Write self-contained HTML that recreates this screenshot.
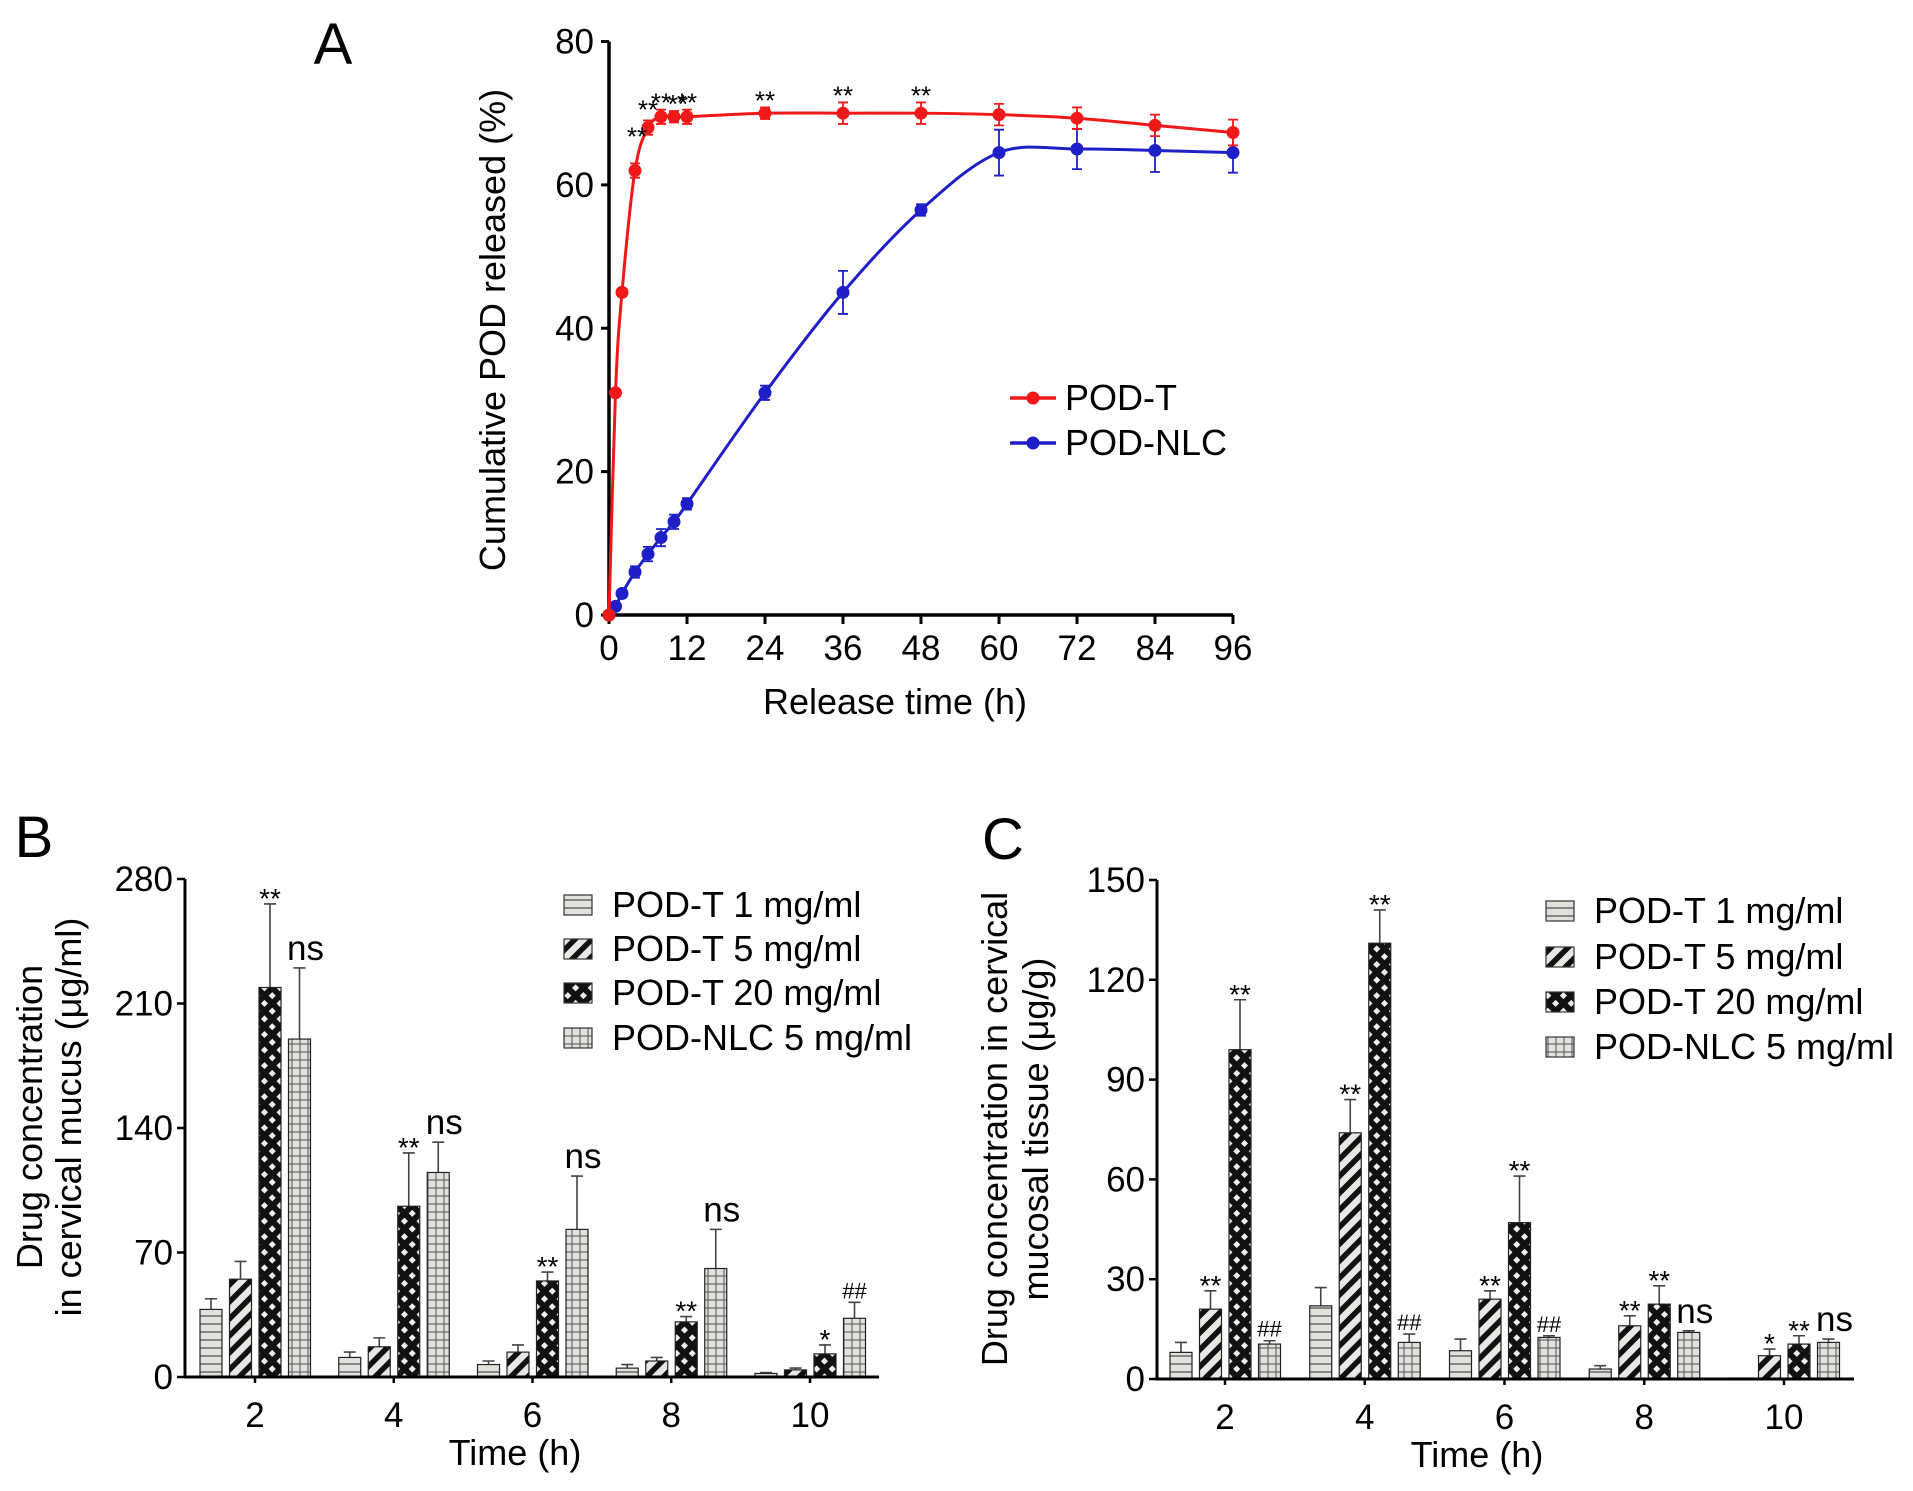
<!DOCTYPE html>
<html><head><meta charset="utf-8">
<style>
html,body{margin:0;padding:0;background:#fff;}
svg{display:block;font-family:"Liberation Sans",Arial,sans-serif;}
</style></head>
<body>
<svg id="fig" width="1913" height="1491" viewBox="0 0 1913 1491" xmlns="http://www.w3.org/2000/svg">
<defs>
 <pattern id="pH" width="8" height="8" patternUnits="userSpaceOnUse"><rect width="8" height="8" fill="#e2e2dc"/><line x1="0" y1="4" x2="8" y2="4" stroke="#555" stroke-width="1.3"/></pattern>
 <pattern id="pD" width="12" height="12" patternUnits="userSpaceOnUse" patternTransform="rotate(-45)"><rect width="12" height="12" fill="#e8e8e2"/><rect x="0" y="0" width="12" height="5.5" fill="#111"/></pattern>
 <pattern id="pX" width="11" height="11" patternUnits="userSpaceOnUse" patternTransform="rotate(45)"><rect width="11" height="11" fill="#111"/><rect x="3" y="3" width="5" height="5" fill="#eee"/></pattern>
 <pattern id="pG" width="8" height="8" patternUnits="userSpaceOnUse"><rect width="8" height="8" fill="#e2e2dc"/><line x1="0" y1="4" x2="8" y2="4" stroke="#666" stroke-width="1.2"/><line x1="4" y1="0" x2="4" y2="8" stroke="#666" stroke-width="1.2"/></pattern>
</defs>
<g id="A"></g>
<g id="B"></g>
<g id="C"></g>
</svg>
<script>
// Panel A data
const aTimes=[0,1,2,4,6,8,10,12,24,36,48,60,72,84,96];
const aRed=[0,31,45,62,68,69.5,69.5,69.5,70,70,70,69.8,69.3,68.3,67.3];
const aRedErr=[0,0.5,0.5,1,1,1,0.8,1,0.8,1.5,1.5,1.5,1.5,1.5,1.8];
const aBlue=[0,1.2,3,6,8.5,10.8,13,15.5,31,45,56.5,64.5,65,64.8,64.5];
const aBlueErr=[0,0.5,0.5,0.8,1,1.2,1,0.8,1,3,0.8,3.2,2.8,3,2.8];
const aStarIdx=[3,4,5,6,7,8,9,10];
const aYTicks=[0,20,40,60,80];
const aXTicks=[0,12,24,36,48,60,72,84,96];
// Panel B data
const groupLabels=['2','4','6','8','10'];
const seriesNames=['POD-T 1 mg/ml','POD-T 5 mg/ml','POD-T 20 mg/ml','POD-NLC 5 mg/ml'];
const bVals=[[38,11,7,5,2],[55,17,14,9,4],[219,96,54,31,13],[190,115,83,61,33]];
const bErr=[[6,3,2,2,0.5],[10,5,4,2,1],[47,30,5,3,5],[40,17,30,22,9]];
const bAnn=[[null,null,null,null,null],[null,null,null,null,null],['**','**','**','**','*'],['ns','ns','ns','ns','##']];
const bYTicks=[0,70,140,210,280];
// Panel C data
const cVals=[[8,22,8.5,3,0.3],[21,74,24,16,7],[99,131,47,22.5,10.5],[10.5,11,12.5,14,11]];
const cErr=[[3,5.5,3.5,1,0],[5.5,10,2.5,3,2],[15,10,14,5.5,2.5],[1,2.5,0.5,0.5,1]];
const cAnn=[[null,null,null,null,null],['**','**','**','**','*'],['**','**','**','**','**'],['##','##','##','ns','ns']];
const cYTicks=[0,30,60,90,120,150];

const TICK=35, TITLE=36, LEG=36;
const NS='http://www.w3.org/2000/svg';
function mk(parent,tag,attrs,text){const e=document.createElementNS(NS,tag);for(const k in attrs)e.setAttribute(k,attrs[k]);if(text!==undefined)e.textContent=text;parent.appendChild(e);return e;}

// ---------- Panel A ----------
(function(){
 const g=document.getElementById('A');
 const X=t=>609+t*6.5, Y=v=>615-v*(615-41.5)/80;
 const L=mk(g,'text',{x:333,y:64,'font-size':58,'text-anchor':'middle'},'A');
 
 aYTicks.forEach(v=>{const t=mk(g,'line',{x1:601,x2:609,y1:Y(v),y2:Y(v),stroke:'#000','stroke-width':3});
   
   const l=mk(g,'text',{x:594,y:Y(v)+12,'font-size':TICK,'text-anchor':'end'},v);
   });
 aXTicks.forEach(v=>{const t=mk(g,'line',{x1:X(v),x2:X(v),y1:615,y2:624,stroke:'#000','stroke-width':3});
   
   const l=mk(g,'text',{x:X(v),y:660,'font-size':TICK,'text-anchor':'middle'},v);
   });
 const ax=mk(g,'path',{d:`M609,${Y(80)} V615 H${X(96)}`,fill:'none',stroke:'#000','stroke-width':3.5});
 
 const yt=mk(g,'text',{x:0,y:0,'font-size':TITLE,'text-anchor':'middle',transform:`translate(505,330) rotate(-90)`},'Cumulative POD released (%)');
 
 const xt=mk(g,'text',{x:895,y:714,'font-size':TITLE,'text-anchor':'middle'},'Release time (h)');
 
 function series(vals,errs,color,name){
   const sg=mk(g,'g',{});
   const pts=aTimes.map((t,i)=>[X(t),Y(vals[i])]);
   let d='M'+pts[0][0]+','+pts[0][1];
   for(let i=0;i<pts.length-1;i++){const p0=pts[Math.max(0,i-1)],p1=pts[i],p2=pts[i+1],p3=pts[Math.min(pts.length-1,i+2)];
     const c1=[p1[0]+(p2[0]-p0[0])/6,p1[1]+(p2[1]-p0[1])/6],c2=[p2[0]-(p3[0]-p1[0])/6,p2[1]-(p3[1]-p1[1])/6];
     d+=` C${c1[0]},${c1[1]} ${c2[0]},${c2[1]} ${p2[0]},${p2[1]}`;}
   const ln=mk(sg,'path',{d:d,fill:'none',stroke:color,'stroke-width':3});
   
   aTimes.forEach((t,i)=>{
     if(errs[i]>0){const e=mk(sg,'path',{d:`M${X(t)},${Y(vals[i]-errs[i])}V${Y(vals[i]+errs[i])}M${X(t)-5},${Y(vals[i]+errs[i])}h10M${X(t)-5},${Y(vals[i]-errs[i])}h10`,stroke:color,'stroke-width':1.8,fill:'none'});
       }
     const c=mk(sg,'circle',{cx:X(t),cy:Y(vals[i]),r:6.5,fill:color});
     });
 }
 series(aBlue,aBlueErr,'#1f1fc8','pod-nlc-series');
 series(aRed,aRedErr,'#f01818','pod-t-series');
 aStarIdx.forEach(i=>{const s=mk(g,'text',{x:X(aTimes[i])+(i===3?2:i===6?4:0),y:Y(aRed[i]+aRedErr[i])+(i===3?-18:i===4?-2:2),'font-size':26,'text-anchor':'middle'},'**');
   });
 [['POD-T','#f01818',398],['POD-NLC','#1f1fc8',443]].forEach(([n,c,y])=>{
   const lg=mk(g,'g',{});
   mk(lg,'line',{x1:1010,x2:1056,y1:y,y2:y,stroke:c,'stroke-width':3.5});
   mk(lg,'circle',{cx:1033,cy:y,r:6.5,fill:c});
   mk(lg,'text',{x:1065,y:y+12,'font-size':LEG},n);});
})();

// ---------- Bar panels ----------
const fills=['url(#pH)','url(#pD)','url(#pX)','url(#pG)'];
function barPanel(id,cfg){
 const g=document.getElementById(id);
 const Y=v=>cfg.y0-v*(cfg.y0-cfg.yTop)/cfg.yMax;
 const L=mk(g,'text',{x:cfg.lx,y:cfg.ly,'font-size':58,'text-anchor':'middle'},cfg.label);
 
 cfg.yTicks.forEach(v=>{const t=mk(g,'line',{x1:cfg.ax-8,x2:cfg.ax,y1:Y(v),y2:Y(v),stroke:'#000','stroke-width':2.5});
   
   const l=mk(g,'text',{x:cfg.ax-12,y:Y(v)+12,'font-size':TICK,'text-anchor':'end'},v);
   });
 for(let s=0;s<4;s++)for(let k=0;k<5;k++){
   const x=cfg.bx0+k*cfg.gstep+s*29.5, v=cfg.vals[s][k], e=cfg.errs[s][k];
   if(e>0){const eb=mk(g,'path',{d:`M${x+11},${Y(v)}V${Y(v+e)}M${x+5},${Y(v+e)}h12`,stroke:'#444','stroke-width':1.6,fill:'none'});
     }
   const r=mk(g,'rect',{x:x,y:Y(v),width:22,height:cfg.y0-Y(v),fill:fills[s],stroke:'#222','stroke-width':1.2});
   
   const a=cfg.ann[s][k];
   if(a){const big=a==='ns';const t=mk(g,'text',{x:x+11+(big?6:0),y:Y(v+e)-(big?8:a==='##'?4:-4),'font-size':big?35:(a==='##'?22:28),'text-anchor':'middle'},a);
     }
 }
 groupLabels.forEach((lab,k)=>{const tx=cfg.bx0+k*cfg.gstep+55;
   const t=mk(g,'line',{x1:tx,x2:tx,y1:cfg.y0,y2:cfg.y0+6,stroke:'#000','stroke-width':2.5});
   
   const l=mk(g,'text',{x:tx,y:cfg.y0+50,'font-size':TICK,'text-anchor':'middle'},lab);
   });
 const ax=mk(g,'path',{d:`M${cfg.ax},${cfg.yTop} V${cfg.y0} H${cfg.xEnd}`,fill:'none',stroke:'#000','stroke-width':3});
 
 const xt=mk(g,'text',{x:cfg.xtx,y:cfg.y0+88,'font-size':TITLE,'text-anchor':'middle'},'Time (h)');
 
 cfg.ytitle.forEach((s,i)=>{const t=mk(g,'text',{x:0,y:0,'font-size':TITLE,'text-anchor':'middle',transform:`translate(${cfg.ytx[i]},${cfg.yty}) rotate(-90)`},s);
   });
 seriesNames.forEach((n,s)=>{const y=cfg.legY[s];
   const lg=mk(g,'g',{});
   mk(lg,'rect',{x:cfg.legX,y:y-10,width:28,height:20,fill:fills[s],stroke:'#333','stroke-width':1.2});
   mk(lg,'text',{x:cfg.legX+48,y:y+12,'font-size':LEG},n);});
}
barPanel('B',{name:'b',label:'B',lx:34,ly:857,ax:185,y0:1377,yTop:879,yMax:280,bx0:200,gstep:138.75,xEnd:879,
 vals:bVals,errs:bErr,ann:bAnn,yTicks:bYTicks,xtx:515,ytitle:['Drug concentration','in cervical mucus (μg/ml)'],ytx:[42,81],yty:1117,
 legX:564,legY:[905,949,993,1038]});
barPanel('C',{name:'c',label:'C',lx:1003,ly:859,ax:1157,y0:1379,yTop:880,yMax:150,bx0:1170,gstep:139.75,xEnd:1854,
 vals:cVals,errs:cErr,ann:cAnn,yTicks:cYTicks,xtx:1477,ytitle:['Drug concentration in cervical','mucosal tissue (μg/g)'],ytx:[1007,1048],yty:1129,
 legX:1546,legY:[911,957,1002,1047]});
</script>
</body></html>
